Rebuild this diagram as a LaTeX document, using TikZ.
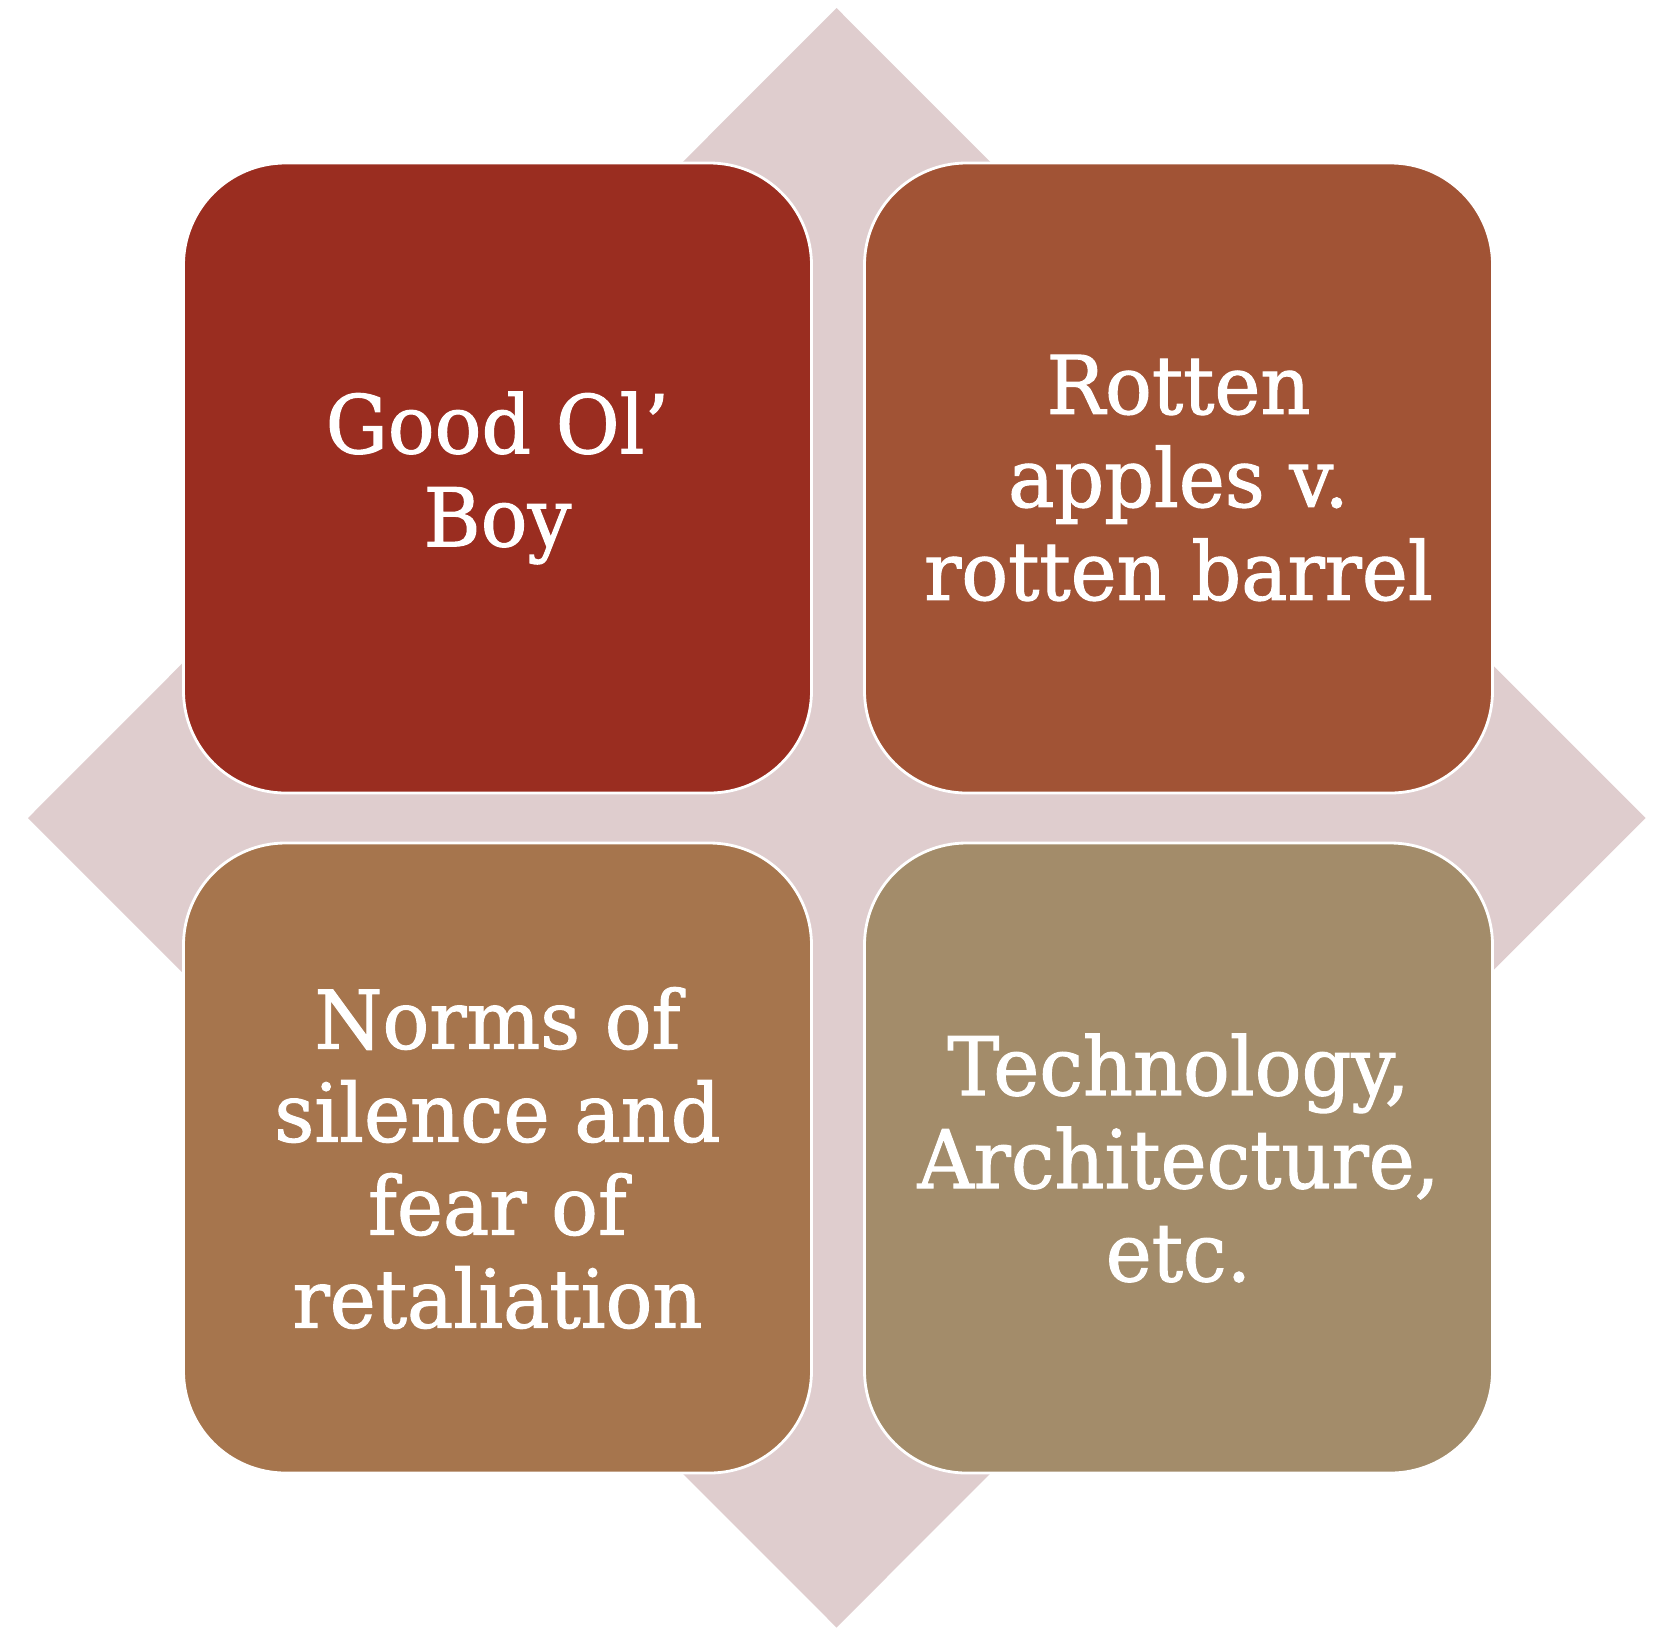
\documentclass[tikz,border=0pt]{standalone}
\usepackage{fontspec}
\setmainfont[FakeStretch=0.96,FakeBold=1.3]{DejaVu Serif}
\definecolor{backdrop}{RGB}{223,205,206}
\definecolor{tileA}{RGB}{154,45,32}
\definecolor{tileB}{RGB}{161,83,53}
\definecolor{tileC}{RGB}{166,117,77}
\definecolor{tileD}{RGB}{163,140,106}
\begin{document}
\begin{tikzpicture}[x=0.5pt,y=-0.5pt,
  tile/.style={rectangle, rounded corners=51pt, draw=white, line width=1.4pt,
    minimum width=314pt, minimum height=315pt, inner sep=0pt,
    text=white, align=center,
    font=\fontsize{40.5}{46.5}\selectfont}]
  \useasboundingbox (0,0) rectangle (1660,1628);
  % diamond behind the four tiles
  \fill[backdrop] (836.5,8) -- (1645.5,818) -- (836.5,1627.5) -- (28,818) -- cycle;
  % the four tiles
  \node[tile, fill=tileA] (boy)    at (497.5,478)  {Good Ol’\\Boy};
  \node[tile, fill=tileB] (apples) at (1178.5,478) {Rotten\\apples v.\\rotten barrel};
  \node[tile, fill=tileC] (norms)  at (497.5,1158) {Norms of\\silence and\\fear of\\retaliation};
  \node[tile, fill=tileD] (tech)   at (1178.5,1158) {Technology,\\Architecture,\\etc.};
\end{tikzpicture}
\end{document}
